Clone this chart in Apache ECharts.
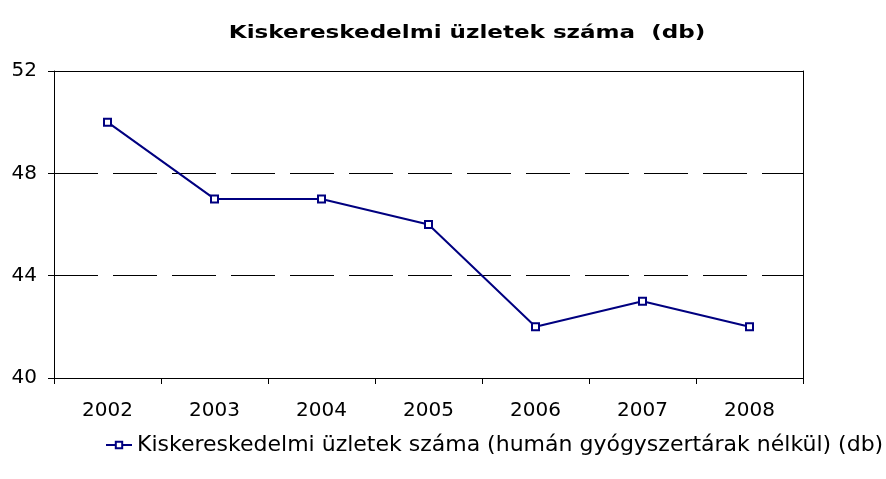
<!DOCTYPE html>
<html>
<head>
<meta charset="utf-8">
<script src="https://cdn.jsdelivr.net/npm/echarts@6/dist/echarts.min.js"></script>
<style>
  html, body { margin: 0; padding: 0; background: #fff; }
  #chart { width: 886px; height: 479px; }
</style>
</head>
<body>
<div id="chart"></div>
<script>
var years = ['2002', '2003', '2004', '2005', '2006', '2007', '2008'];
var stores = [50, 47, 47, 46, 42, 43, 42];
var seriesName = 'Kiskereskedelmi üzletek száma (humán gyógyszertárak nélkül) (db)';
var chartTitle = 'Kiskereskedelmi üzletek száma  (db)';

var myChart = echarts.init(document.getElementById('chart'));
var option = {
    backgroundColor: '#fff',
    animation: false,
    textStyle: { fontFamily: 'DejaVu Sans' },
    grid: { left: 54, right: 83, top: 71, bottom: 101 },
    legend: {
        left: 100,
        top: 429,
        itemWidth: 26,
        itemHeight: 8,
        itemGap: 4,
        textStyle: { fontSize: 22, color: '#000' },
        data: [seriesName]
    },
    xAxis: [{
        type: 'category',
        data: years,
        boundaryGap: true,
        axisLine: { lineStyle: { color: '#000', width: 1 } },
        axisTick: { show: true, length: 6, lineStyle: { color: '#000' } },
        axisLabel: { fontSize: 20, color: '#000', margin: 23 }
    }, {
        // top edge of the plot frame
        type: 'category',
        data: years,
        position: 'top',
        axisLine: { show: true, onZero: false, lineStyle: { color: '#000' } },
        axisTick: { show: false },
        axisLabel: { show: false },
        splitLine: { show: false }
    }],
    yAxis: [{
        type: 'value',
        min: 40,
        max: 52,
        interval: 4,
        axisLine: { show: true, lineStyle: { color: '#000' } },
        axisTick: { show: true, length: 6, lineStyle: { color: '#000' } },
        axisLabel: { fontSize: 20, color: '#000', margin: 17 },
        splitLine: { show: true, lineStyle: { color: '#000', type: [44, 15], width: 1 } }
    }, {
        // right edge of the plot frame
        type: 'value',
        min: 40,
        max: 52,
        interval: 4,
        position: 'right',
        axisLine: { show: true, onZero: false, lineStyle: { color: '#000' } },
        axisTick: { show: false },
        axisLabel: { show: false },
        splitLine: { show: false }
    }],
    series: [{
        name: seriesName,
        type: 'line',
        data: stores,
        symbol: 'rect',
        symbolSize: 7,
        itemStyle: { color: '#fff', borderColor: '#000080', borderWidth: 2 },
        lineStyle: { color: '#000080', width: 2 }
    }],
    graphic: [{
        // title, stretched a bit to get the wide spacing of the original
        type: 'text',
        x: 467,
        y: 33,
        scaleX: 1.28,
        style: {
            text: chartTitle,
            fontSize: 18,
            fontWeight: 'bold',
            fontFamily: 'DejaVu Sans',
            fill: '#000',
            align: 'center',
            verticalAlign: 'middle'
        },
        z: 10
    }]
};
if (option && typeof option === "object") {
    myChart.setOption(option, true);
}
</script>
</body>
</html>
